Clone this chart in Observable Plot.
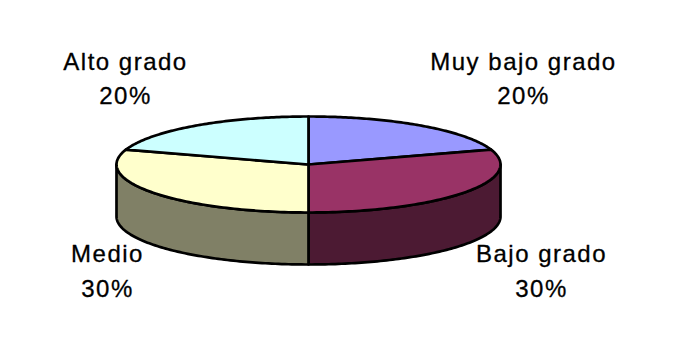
<!doctype html>
<html><head><meta charset="utf-8">
<style>html,body{margin:0;padding:0;background:#fff}svg{display:block}</style>
<script src="https://cdn.jsdelivr.net/npm/d3@7"></script>
<script src="https://cdn.jsdelivr.net/npm/@observablehq/plot@0.6"></script>
</head><body><div id="chart"></div>
<script>
const categories = ["Muy bajo grado", "Bajo grado", "Medio", "Alto grado"];
const shares = [20, 30, 30, 20];
const topColors = ["#9999FF", "#993366", "#FFFFCC", "#CCFFFF"];
const sideColors = ["#4C4C80", "#4C1A33", "#808066", "#668080"];

// Layout, in pixels of the picture
const CX = 308, CY = 164, RX = 192, RY = 48, DEPTH = 52;
const labelCentres = [[523, 62, 96], [541, 254, 289], [107, 254, 289], [125, 62, 96]];
const ux = px => (px - CX) / RX, uy = py => (CY - py) / RY;

const arcs = d3.pie().sort(null)(shares);
const STEPS = 90;
const arcPts = (a0, a1, drop = 0) => d3.range(STEPS + 1).map(i => {
  const t = a0 + (a1 - a0) * i / STEPS;
  return {x: Math.sin(t), y: Math.cos(t) - drop};
});
const drop = DEPTH / RY;
const HALF = Math.PI / 2;

const style = {stroke: "#000", strokeWidth: 2.7, curve: "linear-closed", x: "x", y: "y", strokeLinejoin: "round"};
const marks = [];
// visible outer wall: only the front half of the ellipse
arcs.forEach((a, i) => {
  const s = Math.max(a.startAngle, HALF), e = Math.min(a.endAngle, 3 * HALF);
  if (e <= s) return;
  const pts = [...arcPts(s, e), ...arcPts(s, e, drop).reverse()];
  marks.push(Plot.line(pts, {...style, fill: sideColors[i]}));
});
// top face
arcs.forEach((a, i) => {
  const pts = [{x: 0, y: 0}, ...arcPts(a.startAngle, a.endAngle)];
  marks.push(Plot.line(pts, {...style, fill: topColors[i]}));
});
// labels
const labels = categories.flatMap((c, i) => [
  {text: c, x: ux(labelCentres[i][0]), y: uy(labelCentres[i][1])},
  {text: shares[i] + "%", x: ux(labelCentres[i][0]), y: uy(labelCentres[i][2])}
]);
marks.push(Plot.text(labels, {x: "x", y: "y", text: "text", fill: "#000", stroke: "#000", strokeWidth: 0.3, fontSize: 24,
  fontFamily: "Liberation Sans, Arial, sans-serif", lineAnchor: "middle", textAnchor: "middle"}));

const plot = Plot.plot({
  width: 673, height: 353, margin: 0,
  x: {domain: [-1, 1], range: [CX - RX, CX + RX], axis: null},
  y: {domain: [-1, 1], range: [CY + RY, CY - RY], axis: null},
  style: {background: "#fff", letterSpacing: "1.5px"},
  marks
});
document.getElementById("chart").append(plot);
</script></body></html>
